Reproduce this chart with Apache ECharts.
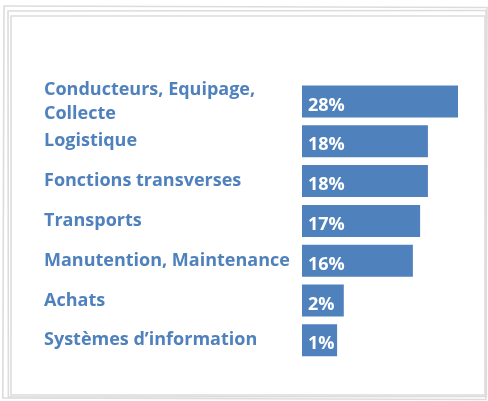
<!DOCTYPE html>
<html>
<head>
<meta charset="utf-8">
<script src="https://cdn.jsdelivr.net/npm/echarts@6/dist/echarts.min.js"></script>
<style>
  html, body { margin: 0; padding: 0; background: #fff; }
  #chart { width: 488px; height: 401px; }
</style>
</head>
<body>
<div id="chart"></div>
<script>
// categories, top to bottom
const categories = [
  "Conducteurs, Equipage,\nCollecte",
  "Logistique",
  "Fonctions transverses",
  "Transports",
  "Manutention, Maintenance",
  "Achats",
  "Systèmes d’information"
];
// percentages printed on the bars
const shares = [28, 18, 18, 17, 16, 2, 1];
// bar lengths as drawn in the picture (not proportional to the printed shares)
const barLengths = [28, 22.6, 22.6, 21.2, 19.9, 7.5, 6.3];

const blue = "#4f81bd";
const chart = echarts.init(document.getElementById("chart"));

// stacked sheet frame behind the chart
const frameColor = "#dcdcdc";
const frames = [
  { x: 4, y: 6, w: 483, h: 392, r: -0.003 },
  { x: 8, y: 11, w: 478, h: 386, r: 0.001 },
  { x: 11, y: 16, w: 474, h: 379, r: 0 }
].map(f => ({
  type: "rect",
  shape: { x: 0, y: 0, width: f.w, height: f.h },
  x: f.x, y: f.y, rotation: f.r,
  style: { fill: null, stroke: frameColor, lineWidth: 1.6 },
  z: -1, silent: true
}));

chart.setOption({
  animation: false,
  backgroundColor: "#fff",
  graphic: frames,
  grid: { left: 302, right: 30, top: 81.6, height: 278.6 },
  xAxis: {
    type: "value",
    min: 0,
    max: 28,
    show: false
  },
  yAxis: {
    type: "category",
    inverse: true,
    data: categories,
    axisLine: { show: false },
    axisTick: { show: false },
    splitLine: { show: false },
    axisLabel: {
      align: "left",
      margin: 258,
      color: blue,
      fontFamily: "Open Sans",
      fontWeight: "bold",
      fontSize: 18,
      lineHeight: 24
    }
  },
  series: [
    {
      type: "bar",
      data: barLengths,
      barWidth: 32,
      itemStyle: { color: blue },
      label: {
        show: true,
        position: "insideLeft",
        distance: 6,
        offset: [0, 4],
        color: "#fff",
        fontFamily: "Open Sans",
        fontWeight: "bold",
        fontSize: 18,
        formatter: p => shares[p.dataIndex] + "%"
      }
    }
  ]
});
</script>
</body>
</html>
